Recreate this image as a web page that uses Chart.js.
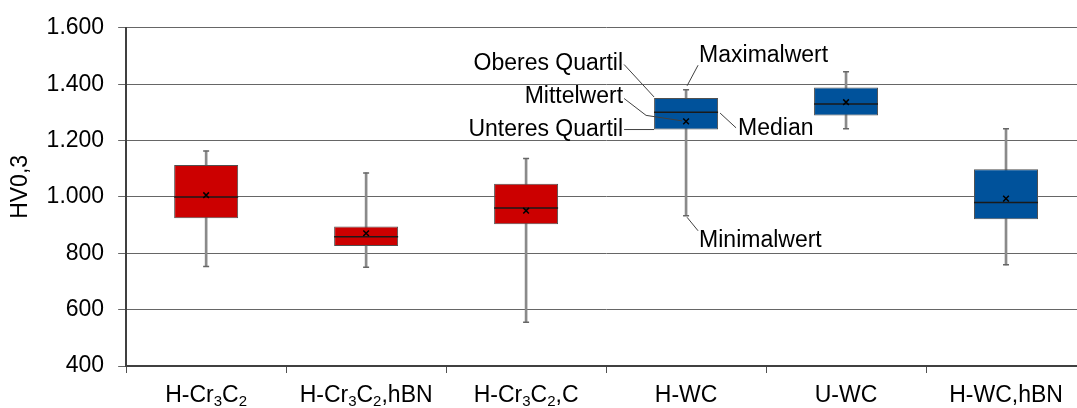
<!DOCTYPE html>
<html>
<head>
<meta charset="utf-8">
<script src="https://cdn.jsdelivr.net/npm/chart.js@4.4.1/dist/chart.umd.min.js"></script>
<style>
  html, body { margin: 0; padding: 0; background: #ffffff; overflow: hidden; width: 1077px; height: 408px; }
  #wrap { width: 1077px; height: 408px; position: relative; overflow: hidden; }
  #c { display: block; position: absolute; left: 0; top: 0; }
</style>
</head>
<body>
<div id="wrap"><canvas id="c" width="1100" height="408" style="width:1100px;height:408px"></canvas></div>
<script>
// ---- data ----
const categories   = ['H-Cr3C2', 'H-Cr3C2,hBN', 'H-Cr3C2,C', 'H-WC', 'U-WC', 'H-WC,hBN'];
const minValues    = [753, 750, 555, 933, 1242, 759];
const q1Values     = [924, 826, 903, 1239, 1289, 921];
const medianValues = [1000, 859, 961, 1300, 1330, 980];
const meanValues   = [1006, 871, 951, 1268, 1336, 994];
const q3Values     = [1113, 895, 1047, 1351, 1388, 1098];
const maxValues    = [1163, 1085, 1136, 1380, 1444, 1242];
const boxColors    = ['#CC0000', '#CC0000', '#CC0000', '#00529B', '#00529B', '#00529B'];
const yTicks       = [400, 600, 800, 1000, 1200, 1400, 1600];
const yTitle       = 'HV0,3';
const annotatedIndex = 3;
const annotationTexts = {
  q3: 'Oberes Quartil', mean: 'Mittelwert', q1: 'Unteres Quartil',
  max: 'Maximalwert', median: 'Median', min: 'Minimalwert'
};

const FONT = '"Liberation Sans", Arial, Helvetica, sans-serif';

function fmtDE(v) {
  const s = String(Math.round(v));
  return s.replace(/\B(?=(\d{3})+(?!\d))/g, '.');
}

// Draw category labels with chemical subscripts, and the y-axis title
const subscriptLabels = {
  id: 'subscriptLabels',
  afterDraw(chart) {
    const ctx = chart.ctx;
    const xs = chart.scales.x;
    const area = chart.chartArea;
    const baseY = area.bottom + 35.5;
    ctx.save();
    ctx.fillStyle = '#000';
    ctx.textBaseline = 'alphabetic';
    ctx.textAlign = 'left';
    categories.forEach((lab, i) => {
      const segs = [];
      for (const ch of lab) {
        const sub = /[0-9]/.test(ch);
        if (segs.length && segs[segs.length - 1].sub === sub) segs[segs.length - 1].t += ch;
        else segs.push({ t: ch, sub });
      }
      let total = 0;
      segs.forEach(s => {
        ctx.font = (s.sub ? '15px ' : '23px ') + FONT;
        s.w = ctx.measureText(s.t).width;
        total += s.w;
      });
      let x = xs.getPixelForTick(i) - total / 2;
      segs.forEach(s => {
        ctx.font = (s.sub ? '15px ' : '23px ') + FONT;
        ctx.fillText(s.t, x, baseY + (s.sub ? 4 : 0));
        x += s.w;
      });
    });
    // y title
    ctx.translate(21, (area.top + area.bottom) / 2 - 10);
    ctx.rotate(-Math.PI / 2);
    ctx.font = '23px ' + FONT;
    ctx.textAlign = 'center';
    ctx.textBaseline = 'middle';
    ctx.fillText(yTitle, 0, 0);
    ctx.restore();
  }
};

// Annotations describing the box-plot parts on the H-WC box
const boxAnnotations = {
  id: 'boxAnnotations',
  afterDatasetsDraw(chart) {
    const ctx = chart.ctx;
    const xs = chart.scales.x, ys = chart.scales.y;
    const i = annotatedIndex;
    const cx = xs.getPixelForValue(i);
    const half = 32;
    const bl = cx - half, br = cx + half;
    const yQ3 = ys.getPixelForValue(q3Values[i]);
    const yQ1 = ys.getPixelForValue(q1Values[i]);
    const yMed = ys.getPixelForValue(medianValues[i]);
    const yMean = ys.getPixelForValue(meanValues[i]);
    const yMax = ys.getPixelForValue(maxValues[i]);
    const yMin = ys.getPixelForValue(minValues[i]);
    ctx.save();
    ctx.strokeStyle = '#404040';
    ctx.lineWidth = 1;
    const line = (pts) => {
      ctx.beginPath();
      ctx.moveTo(pts[0][0], pts[0][1]);
      for (let k = 1; k < pts.length; k++) ctx.lineTo(pts[k][0], pts[k][1]);
      ctx.stroke();
    };
    line([[bl - 30, yQ3 - 33.5], [bl, yQ3 - 1]]);
    line([[bl - 30, yQ3 + 0.5], [bl - 8, yMean - 6], [cx - 4, yMean - 0.5]]);
    line([[bl - 30, yQ1], [bl, yQ1]]);
    line([[cx + 12, yMax - 24.6], [cx + 1, yMax - 4]]);
    line([[br + 18, yMed + 15.5], [br + 2, yMed + 0.7]]);
    line([[cx + 12, yMin + 15], [cx + 1, yMin + 1.5]]);

    ctx.fillStyle = '#000';
    ctx.font = '23px ' + FONT;
    ctx.textBaseline = 'middle';
    ctx.textAlign = 'right';
    ctx.fillText(annotationTexts.q3, bl - 31, yQ3 - 34.5);
    ctx.fillText(annotationTexts.mean, bl - 31, yQ3 - 1.5);
    ctx.fillText(annotationTexts.q1, bl - 31, yQ1);
    ctx.textAlign = 'left';
    ctx.fillText(annotationTexts.max, cx + 13, yMax - 34.6);
    ctx.fillText(annotationTexts.median, br + 20, yMed + 16.5);
    ctx.fillText(annotationTexts.min, cx + 13, yMin + 25);
    ctx.restore();
  }
};

const whiskerData = categories.map((_, i) => [minValues[i], maxValues[i]]);
const boxData = categories.map((_, i) => [q1Values[i], q3Values[i]]);

new Chart(document.getElementById('c'), {
  type: 'bar',
  data: {
    labels: categories,
    datasets: [
      {
        label: 'Whisker',
        data: whiskerData,
        backgroundColor: '#8a8a8a',
        borderWidth: 0,
        barThickness: 2,
        grouped: false,
        order: 5
      },
      {
        label: 'Box',
        data: boxData,
        backgroundColor: boxColors,
        borderColor: '#505050',
        borderWidth: 1,
        borderSkipped: false,
        barPercentage: 0.4,
        categoryPercentage: 1.0,
        grouped: false,
        order: 4
      },
      {
        type: 'line',
        label: 'Median',
        data: medianValues,
        showLine: false,
        pointStyle: 'line',
        pointRadius: 32,
        pointBorderColor: '#1a1a1a',
        pointBorderWidth: 1.5,
        order: 2
      },
      {
        type: 'line',
        label: 'Max',
        data: maxValues,
        showLine: false,
        pointStyle: 'line',
        pointRadius: 3,
        pointBorderColor: '#666',
        pointBorderWidth: 1.5,
        order: 1
      },
      {
        type: 'line',
        label: 'Min',
        data: minValues,
        showLine: false,
        pointStyle: 'line',
        pointRadius: 3,
        pointBorderColor: '#666',
        pointBorderWidth: 1.5,
        order: 1
      },
      {
        type: 'line',
        label: 'Mittelwert',
        data: meanValues,
        showLine: false,
        pointStyle: 'crossRot',
        pointRadius: 4,
        pointBorderColor: '#000',
        pointBackgroundColor: 'transparent',
        pointBorderWidth: 1.5,
        order: 0
      }
    ]
  },
  options: {
    responsive: false,
    maintainAspectRatio: false,
    animation: false,
    events: [],
    layout: { autoPadding: false, padding: { top: 0, right: 14, bottom: 0, left: 0 } },
    plugins: {
      legend: { display: false },
      tooltip: { enabled: false }
    },
    scales: {
      x: {
        type: 'category',
        offset: true,
        grid: {
          offset: true,
          drawOnChartArea: false,
          drawTicks: true,
          tickLength: 7,
          color: '#505050',
          lineWidth: 1
        },
        border: { color: '#404040', width: 2 },
        ticks: {
          color: 'rgba(0,0,0,0)',
          font: { family: FONT, size: 23, lineHeight: 1.0 },
          padding: 6,
          maxRotation: 0,
          autoSkip: false
        }
      },
      y: {
        min: 400,
        max: 1600,
        afterBuildTicks(scale) { scale.ticks = yTicks.map(v => ({ value: v })); },
        grid: {
          color: '#666',
          lineWidth: 1,
          drawTicks: true,
          tickLength: 8
        },
        border: { color: '#404040', width: 2 },
        ticks: {
          color: '#000',
          font: { family: FONT, size: 23 },
          padding: 14,
          callback: (v) => fmtDE(v)
        },
        title: {
          display: true,
          text: yTitle,
          color: 'rgba(0,0,0,0)',
          font: { family: FONT, size: 23 },
          padding: { top: 6, bottom: -1 }
        }
      }
    }
  },
  plugins: [subscriptLabels, boxAnnotations]
});
</script>
</body>
</html>
